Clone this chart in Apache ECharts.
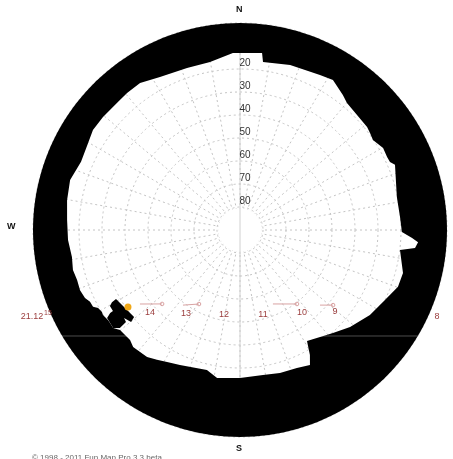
<!DOCTYPE html>
<html>
<head>
<meta charset="utf-8">
<script src="https://cdn.jsdelivr.net/npm/echarts@6/dist/echarts.min.js"></script>
<style>
  html, body { margin: 0; padding: 0; background: #fff; }
  #chart { width: 453px; height: 459px; }
</style>
</head>
<body>
<div id="chart"></div>
<script>
// 地平線プロファイル（方位: 北から時計回り, 高度: 度）
const horizonAz = [0, 7.1, 7.8, 16.9, 27.3, 31.8, 37.3, 40.1, 51.0, 53.3, 55.9, 60.2, 63.6, 65.6, 67.2, 78.1, 85.4, 90.7, 92.7, 93.9, 95.9, 97.1, 104.8, 109.8, 115.8, 123.2, 131.4, 137.9, 143.2, 148.9, 150.8, 152.6, 157.6, 164.4, 171.0, 180.0, 188.8, 193.3, 204.0, 208.9, 212.6, 216.2, 219.3, 222.4, 225.0, 227.6, 230.2, 232.3, 234.4, 235.7, 238.2, 239.3, 241.2, 242.4, 244.4, 246.3, 249.4, 252.9, 256.5, 260.9, 266.7, 273.3, 279.8, 286.4, 293.2, 299.8, 304.2, 309.5, 315.9, 320.5, 325.8, 332.4, 341.9, 349.9, 357.7];
const horizonAlt = [13.0, 12.4, 16.3, 15.0, 14.2, 13.3, 16.2, 17.8, 18.9, 19.5, 20.2, 18.3, 18.6, 18.4, 16.9, 20.3, 20.2, 19.6, 15.1, 12.4, 13.5, 19.9, 16.7, 17.0, 20.0, 22.5, 26.2, 29.7, 31.9, 33.6, 27.7, 23.9, 25.1, 25.4, 26.2, 25.7, 24.9, 27.5, 25.8, 24.4, 23.0, 21.6, 21.4, 21.1, 22.4, 22.3, 22.1, 20.3, 20.5, 20.5, 19.9, 20.2, 19.6, 17.9, 17.7, 16.4, 15.7, 15.9, 15.3, 16.0, 15.1, 14.7, 13.7, 13.0, 14.8, 13.9, 12.7, 12.8, 13.1, 12.8, 12.7, 14.9, 15.9, 15.8, 13.0];

// アンテナ（障害物）
const antennaAz = [240.6, 240.9, 230.6, 229.8, 232.8, 231.1, 230.8, 232.3, 236.5, 237.4, 237.5, 239.7];
const antennaAlt = [26.1, 28.3, 30.4, 28.0, 26.7, 26.3, 22.6, 20.3, 20.7, 23.0, 24.5, 24.5];

// 太陽の現在位置
const sunAz = 235.5;
const sunAlt = 30.9;

// 21.12 の時刻ラベル
const hourLabels = ['14', '13', '12', '11', '10', '9', '8'];
const hourAz = [227.3, 212.7, 190.7, 164.7, 143.2, 130.5, 113.6];
const hourAlt = [36.8, 46.6, 52.4, 52.1, 45.0, 35.7, -3.5];
const dateLabel = '21.12';
const dateSup = '15';
const dateAz = 247.3;
const dateAlt = -8.0;

// 太陽軌道の線分（2点ずつ）
const pathAz = [233.5, 226.5, 217.2, 209.0, 156.0, 142.4, 133.2, 128.9];
const pathAlt = [35.9, 43.3, 49.0, 53.2, 54.8, 49.4, 42.3, 38.0];

// 水平の弦
const chordAz = [120.8, 239.2];
const chordAlt = [0, 0];

// 高度目盛
const altTicks = [20, 30, 40, 50, 60, 70, 80];

const chart = echarts.init(document.getElementById('chart'));

function toPath(pts) {
  return pts.map((p, i) => (i ? 'L' : 'M') + p[0].toFixed(2) + ' ' + p[1].toFixed(2)).join(' ') + ' Z ';
}

const gridLine = { color: '#c4c4c4', width: 1, type: [2, 3] };

const option = {
  backgroundColor: '#fff',
  animation: false,
  polar: { center: [240, 230], radius: 207 },
  angleAxis: {
    type: 'value', min: 0, max: 360, interval: 10,
    startAngle: 90, clockwise: true,
    axisLine: { show: false }, axisTick: { show: false }, axisLabel: { show: false },
    splitLine: { show: true, lineStyle: gridLine }
  },
  radiusAxis: {
    type: 'value', min: 0, max: 90, interval: 10, inverse: true,
    axisLine: { show: false }, axisTick: { show: false }, axisLabel: { show: false },
    splitLine: { show: true, lineStyle: gridLine }
  },
  graphic: [
    { type: 'text', left: 236, top: 5, style: { text: 'N', font: 'bold 9px "Liberation Sans"', fill: '#111' } },
    { type: 'text', left: 236, top: 444, style: { text: 'S', font: 'bold 9px "Liberation Sans"', fill: '#111' } },
    { type: 'text', left: 7, top: 222, style: { text: 'W', font: 'bold 9px "Liberation Sans"', fill: '#111' } },
    { type: 'text', left: 32, top: 454, style: { text: '© 1998 - 2011 Fun Map Pro 3.3 beta', font: '8px "Liberation Sans"', fill: '#666' } }
  ],
  series: [
    {
      // 天頂付近の白い円と南北線
      type: 'custom', coordinateSystem: 'polar', z: 1, data: [[90, 0]],
      renderItem: function (params, api) {
        const c = api.coord([90, 0]);
        const e = api.coord([80.5, 0]);
        const n = api.coord([0, 0]);
        const s = api.coord([0, 180]);
        return {
          type: 'group',
          children: [
            { type: 'circle', shape: { cx: c[0], cy: c[1], r: Math.abs(c[1] - e[1]) }, style: { fill: '#fff' } },
            { type: 'line', shape: { x1: n[0], y1: n[1], x2: s[0], y2: s[1] }, style: { stroke: '#d0d0d0', lineWidth: 1 } }
          ]
        };
      }
    },
    {
      // 地平線より下の黒い部分
      type: 'custom', coordinateSystem: 'polar', z: 2, data: [[0, 0]],
      renderItem: function (params, api) {
        const outer = [];
        for (let a = 0; a < 360; a += 2) outer.push(api.coord([0, a]));
        const inner = horizonAz.map((az, i) => api.coord([horizonAlt[i], az])).reverse();
        const ant = antennaAz.map((az, i) => api.coord([antennaAlt[i], az]));
        return {
          type: 'group',
          children: [
            { type: 'path', shape: { pathData: toPath(outer) + toPath(inner) }, style: { fill: '#000' } },
            { type: 'polygon', shape: { points: ant }, style: { fill: '#000' } }
          ]
        };
      }
    },
    {
      // 弦・太陽軌道・太陽
      type: 'custom', coordinateSystem: 'polar', z: 3, data: [[0, 0]],
      renderItem: function (params, api) {
        const children = [];
        const c1 = api.coord([chordAlt[0], chordAz[0]]);
        const c2 = api.coord([chordAlt[1], chordAz[1]]);
        children.push({ type: 'line', shape: { x1: c1[0], y1: c1[1], x2: c2[0], y2: c2[1] }, style: { stroke: 'rgba(255,255,255,0.3)', lineWidth: 1 } });
        for (let i = 0; i < pathAz.length; i += 2) {
          const p1 = api.coord([pathAlt[i], pathAz[i]]);
          const p2 = api.coord([pathAlt[i + 1], pathAz[i + 1]]);
          children.push({ type: 'line', shape: { x1: p1[0], y1: p1[1], x2: p2[0], y2: p2[1] }, style: { stroke: '#d9a3a3', lineWidth: 1 } });
          children.push({ type: 'circle', shape: { cx: p2[0], cy: p2[1], r: 1.8 }, style: { fill: 'none', stroke: '#d9a3a3', lineWidth: 1 } });
        }
        const s = api.coord([sunAlt, sunAz]);
        children.push({ type: 'circle', shape: { cx: s[0], cy: s[1], r: 3.5 }, style: { fill: '#f0a818' } });
        return { type: 'group', children: children };
      }
    },
    {
      // 時刻ラベル
      type: 'custom', coordinateSystem: 'polar', z: 4,
      data: hourAz.map((az, i) => [hourAlt[i], az]),
      renderItem: function (params, api) {
        const p = api.coord([api.value(0), api.value(1)]);
        return {
          type: 'text', x: p[0], y: p[1],
          style: { text: hourLabels[params.dataIndex], font: '9px "Liberation Sans"', fill: '#9a3c3c', align: 'center', verticalAlign: 'middle' }
        };
      }
    },
    {
      // 日付ラベル
      type: 'custom', coordinateSystem: 'polar', z: 4, data: [[dateAlt, dateAz]],
      renderItem: function (params, api) {
        const p = api.coord([api.value(0), api.value(1)]);
        return {
          type: 'group',
          children: [
            { type: 'text', x: p[0], y: p[1], style: { text: dateLabel, font: '9px "Liberation Sans"', fill: '#9a3c3c', align: 'center', verticalAlign: 'middle' } },
            { type: 'text', x: p[0] + 12, y: p[1] - 4, style: { text: dateSup, font: '7px "Liberation Sans"', fill: '#9a3c3c', align: 'left', verticalAlign: 'middle' } }
          ]
        };
      }
    },
    {
      // 高度ラベル
      type: 'custom', coordinateSystem: 'polar', z: 4,
      data: altTicks.map(v => [v, 0]),
      renderItem: function (params, api) {
        const p = api.coord([api.value(0), api.value(1)]);
        return {
          type: 'text', x: p[0] + 5, y: p[1] - 6,
          style: { text: String(altTicks[params.dataIndex]), font: '10px "Liberation Sans"', fill: '#333', align: 'center', verticalAlign: 'middle' }
        };
      }
    }
  ]
};

chart.setOption(option);
</script>
</body>
</html>
